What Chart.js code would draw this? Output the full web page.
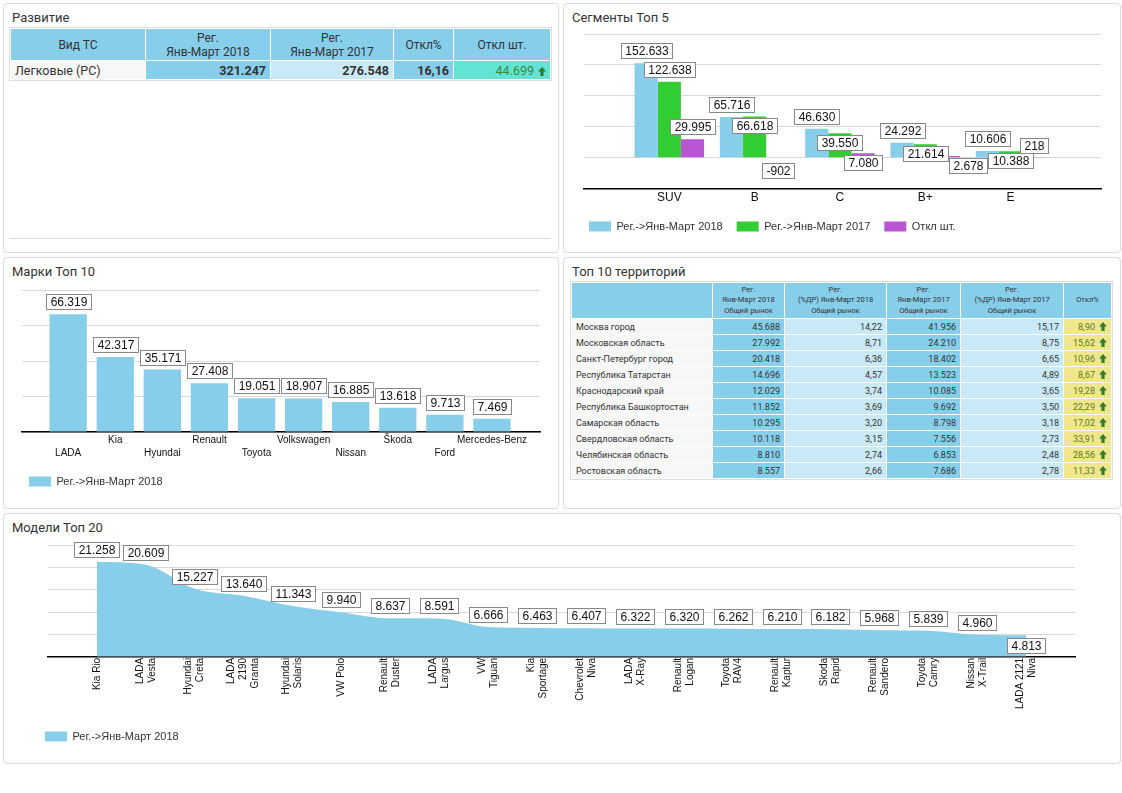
<!DOCTYPE html>
<html>
<head>
<meta charset="utf-8">
<script src="https://cdn.jsdelivr.net/npm/chart.js@4/dist/chart.umd.min.js"></script>
<style>
  body { margin: 0; width: 1122px; height: 793px; background: #fff; position: relative; font-family: Roboto, "Open Sans", sans-serif; color: #333; overflow: hidden; }
  .panel { position: absolute; border: 1px solid #dcdcdc; border-radius: 4px; box-shadow: 0 0 2px rgba(0,0,0,0.06); background: #fff; }
  .title { position: absolute; left: 8px; top: 5px; font-size: 13px; line-height: 18px; color: #333; }
  .box { position: absolute; }
  table { border-collapse: collapse; table-layout: fixed; position: absolute; }
  td, th { border: 1px solid #fff; padding: 0 4px; overflow: hidden; white-space: nowrap; }
  #devTable { left: 10px; top: 28px; width: 540px; outline: 1px solid #ddd; }
  #devTable th { background: #87ceeb; font-weight: normal; font-size: 12px; line-height: 14px; height: 31px; text-align: center; }
  #devTable td { font-size: 12.5px; height: 18px; text-align: right; font-weight: bold; }
  #terrTable { left: 571px; top: 282px; width: 540px; outline: 1px solid #ddd; }
  #terrTable th { background: #87ceeb; font-weight: normal; font-size: 7.5px; line-height: 10.5px; height: 35px; text-align: center; }
  #terrTable td { font-size: 9px; height: 15px; text-align: right; }
  .name { text-align: left !important; font-weight: normal !important; background: #f7f7f7; }
  .c1 { background: #87ceeb; }
  .c2 { background: #c9e9f6; }
  .cy { background: #f0e68c; color: #5b7a25; }
  .ct { background: #62e3d3; color: #3b8a3b; font-weight: normal !important; }
  .arr { display: inline-block; margin-left: 4px; vertical-align: -1px; }
  .line { position: absolute; left: 10px; top: 238px; width: 540px; height: 1px; background: #ddd; }
</style>
</head>
<body>
<div class="panel" style="left:3px;top:3px;width:554px;height:248px"><div class="title">Развитие</div></div>
<div class="panel" style="left:563px;top:3px;width:556px;height:248px"><div class="title">Сегменты Топ 5</div></div>
<div class="panel" style="left:3px;top:257px;width:554px;height:250px"><div class="title">Марки Топ 10</div></div>
<div class="panel" style="left:563px;top:257px;width:556px;height:250px"><div class="title">Топ 10 территорий</div></div>
<div class="panel" style="left:3px;top:513px;width:1116px;height:249px"><div class="title">Модели Топ 20</div></div>
<div class="line"></div>

<table id="devTable"></table>
<table id="terrTable"></table>

<div class="box" style="left:570px;top:24px;width:540px;height:218px"><canvas id="segChart"></canvas></div>
<div class="box" style="left:10px;top:280px;width:540px;height:217px"><canvas id="brandChart"></canvas></div>
<div class="box" style="left:10px;top:535px;width:1100px;height:217px"><canvas id="modelChart"></canvas></div>

<script>
// ---- data ----
const devHead = ['Вид ТС', 'Рег.\nЯнв-Март 2018', 'Рег.\nЯнв-Март 2017', 'Откл%', 'Откл шт.'];
const devWidths = [135, 125, 123, 60, 97];
const devType = ['Легковые (РС)'];
const dev2018 = [321247];
const dev2017 = [276548];
const devPct = [16.16];
const devUnits = [44699];

const segments = ['SUV', 'B', 'C', 'B+', 'E'];
const seg2018 = [152633, 65716, 46630, 24292, 10606];
const seg2017 = [122638, 66618, 39550, 21614, 10388];
const segDiff = [29995, -902, 7080, 2678, 218];

const brands = ['LADA', 'Kia', 'Hyundai', 'Renault', 'Toyota', 'Volkswagen', 'Nissan', 'Škoda', 'Ford', 'Mercedes-Benz'];
const brand2018 = [66319, 42317, 35171, 27408, 19051, 18907, 16885, 13618, 9713, 7469];

const terrHead = ['', 'Рег.\nЯнв-Март 2018\nОбщий рынок', 'Рег.\n(%ДР) Янв-Март 2018\nОбщий рынок',
  'Рег.\nЯнв-Март 2017\nОбщий рынок', 'Рег.\n(%ДР) Янв-Март 2017\nОбщий рынок', 'Откл%'];
const terrWidths = [141, 72, 102, 74, 103, 48];
const regions = ['Москва город', 'Московская область', 'Санкт-Петербург город', 'Республика Татарстан',
  'Краснодарский край', 'Республика Башкортостан', 'Самарская область', 'Свердловская область',
  'Челябинская область', 'Ростовская область'];
const reg2018 = [45688, 27992, 20418, 14696, 12029, 11852, 10295, 10118, 8810, 8557];
const share2018 = [14.22, 8.71, 6.36, 4.57, 3.74, 3.69, 3.20, 3.15, 2.74, 2.66];
const reg2017 = [41956, 24210, 18402, 13523, 10085, 9692, 8798, 7556, 6853, 7686];
const share2017 = [15.17, 8.75, 6.65, 4.89, 3.65, 3.50, 3.18, 2.73, 2.48, 2.78];
const regPct = [8.90, 15.62, 10.96, 8.67, 19.28, 22.29, 17.02, 33.91, 28.56, 11.33];

const models = ['Kia Rio', 'LADA\nVesta', 'Hyundai\nCreta', 'LADA\n2190\nGranta', 'Hyundai\nSolaris', 'VW Polo',
  'Renault\nDuster', 'LADA\nLargus', 'VW\nTiguan', 'Kia\nSportage', 'Chevrolet\nNiva', 'LADA\nX-Ray',
  'Renault\nLogan', 'Toyota\nRAV4', 'Renault\nKaptur', 'Skoda\nRapid', 'Renault\nSandero', 'Toyota\nCamry',
  'Nissan\nX-Trail', 'LADA 2121\nNiva'];
const model2018 = [21258, 20609, 15227, 13640, 11343, 9940, 8637, 8591, 6666, 6463,
  6407, 6322, 6320, 6262, 6210, 6182, 5968, 5839, 4960, 4813];

const legend2018 = 'Рег.->Янв-Март 2018';
const legend2017 = 'Рег.->Янв-Март 2017';
const legendDiff = 'Откл шт.';

// ---- helpers ----
function fmtInt(v) {
  const s = String(Math.abs(Math.round(v))).replace(/\B(?=(\d{3})+(?!\d))/g, '.');
  return (v < 0 ? '-' : '') + s;
}
function fmtDec(v) { return v.toFixed(2).replace('.', ','); }
const arrow = '<svg class="arr" width="8" height="9" viewBox="0 0 8 9"><path d="M4 0L8 4.6H5.6V9H2.4V4.6H0Z" fill="#2f7d32"/></svg>';

function headRows(cells, widths) {
  return '<colgroup>' + widths.map(w => '<col style="width:' + w + 'px">').join('') + '</colgroup>' +
    '<tr>' + cells.map(c => '<th>' + c.split('\n').join('<br>') + '</th>').join('') + '</tr>';
}

// development table
let html = headRows(devHead, devWidths);
devType.forEach((t, i) => {
  html += '<tr><td class="name">' + t + '</td><td class="c1">' + fmtInt(dev2018[i]) + '</td><td class="c2">' +
    fmtInt(dev2017[i]) + '</td><td class="c1">' + fmtDec(devPct[i]) + '</td><td class="ct">' + fmtInt(devUnits[i]) + arrow + '</td></tr>';
});
document.getElementById('devTable').innerHTML = html;

// territories table
html = headRows(terrHead, terrWidths);
regions.forEach((r, i) => {
  html += '<tr><td class="name">' + r + '</td><td class="c1">' + fmtInt(reg2018[i]) + '</td><td class="c2">' +
    fmtDec(share2018[i]) + '</td><td class="c1">' + fmtInt(reg2017[i]) + '</td><td class="c2">' +
    fmtDec(share2017[i]) + '</td><td class="cy">' + fmtDec(regPct[i]) + arrow + '</td></tr>';
});
document.getElementById('terrTable').innerHTML = html;

// ---- charts ----
Chart.defaults.font.family = '"Liberation Sans", Arial, sans-serif';
Chart.defaults.font.size = 12;
Chart.defaults.color = '#222';
Chart.defaults.animation = false;

const SKY = '#87ceeb', GREEN = '#32cd32', PURPLE = '#ba55d3', GRID = '#d9d9d9';

// boxed value labels, moved down or right when they would hit a label already drawn
function hits(a, b) {
  return a.x < b.x + b.w && b.x < a.x + a.w && a.y < b.y + b.h && b.y < a.y + a.h;
}
const boxLabels = {
  id: 'boxLabels',
  afterDatasetsDraw(chart, args, opts) {
    const ctx = chart.ctx;
    const below = opts.below || [];
    ctx.save();
    ctx.font = '12px "Liberation Sans", Arial, sans-serif';
    ctx.textAlign = 'center';
    ctx.textBaseline = 'middle';
    const placed = [];
    const sets = chart.data.datasets;
    const count = Math.max(...sets.map(d => d.data.length));
    for (let j = 0; j < count; j++) {
      sets.forEach((ds, i) => {
        const el = chart.getDatasetMeta(i).data[j];
        const raw = ds.data[j];
        if (!el || raw == null) return;
        const v = typeof raw === 'object' ? raw.y : raw;
        const text = fmtInt(v);
        const w = Math.round(ctx.measureText(text).width) + 8, h = 15;
        const cands = v < 0 ? [el.y + 5] : below.includes(j) ? [el.y + 3] : [el.y - 5 - h, el.y + 2];
        let box = null;
        for (const cy of cands) {
          const b = { x: el.x - w / 2, y: cy, w: w, h: h };
          if (!placed.some(p => hits(p, b))) { box = b; break; }
        }
        if (!box) {
          box = { x: el.x - w / 2, y: cands[cands.length - 1], w: w, h: h };
          let hit;
          while ((hit = placed.find(p => hits(p, box)))) box.x = hit.x + hit.w + 1;
        }
        placed.push(box);
        const bx = Math.round(box.x) + 0.5, by = Math.round(box.y) + 0.5;
        ctx.fillStyle = '#fff';
        ctx.fillRect(bx, by, box.w, box.h);
        ctx.strokeStyle = '#888';
        ctx.lineWidth = 1;
        ctx.strokeRect(bx, by, box.w, box.h);
        ctx.fillStyle = '#111';
        ctx.fillText(text, bx + box.w / 2, by + 0.5 + box.h / 2);
      });
    }
    ctx.restore();
  }
};

function legendOpts() {
  return {
    position: 'bottom',
    align: 'start',
    labels: { boxWidth: 22, boxHeight: 10, padding: 14, color: '#333', font: { size: 11 } }
  };
}
function yOpts(max, step, width) {
  return {
    min: 0, max: max,
    ticks: { display: false, stepSize: step },
    grid: { color: GRID, drawTicks: false },
    border: { display: false },
    afterFit: s => { s.width = width; }
  };
}
function pts(values) { return values.map((v, i) => ({ x: i, y: v })); }

// segments
new Chart('segChart', {
  type: 'bar',
  data: {
    datasets: [
      { label: legend2018, data: pts(seg2018), backgroundColor: SKY },
      { label: legend2017, data: pts(seg2017), backgroundColor: GREEN },
      { label: legendDiff, data: pts(segDiff), backgroundColor: PURPLE }
    ]
  },
  plugins: [boxLabels],
  options: {
    responsive: true, maintainAspectRatio: false,
    layout: { padding: { left: 5, right: 9, top: 10, bottom: 0 } },
    datasets: { bar: { categoryPercentage: 0.815, barPercentage: 1 } },
    scales: {
      x: {
        type: 'linear', min: -1.0, max: 5.06, offset: false,
        afterBuildTicks: s => { s.ticks = segments.map((_, i) => ({ value: i })); },
        ticks: { autoSkip: false, maxRotation: 0, padding: 2, color: '#111', font: { size: 12 }, callback: (v, i) => segments[i] },
        grid: { display: false, drawTicks: false },
        border: { color: '#000', width: 1.5 }
      },
      y: Object.assign(yOpts(200000, 50000, 9), { min: -50000 })
    },
    plugins: { legend: legendOpts(), tooltip: { enabled: false }, boxLabels: {} }
  }
});

// brands
new Chart('brandChart', {
  type: 'bar',
  data: { datasets: [{ label: legend2018, data: pts(brand2018), backgroundColor: SKY }] },
  plugins: [boxLabels],
  options: {
    responsive: true, maintainAspectRatio: false,
    layout: { padding: { left: 5, right: 10, top: 10, bottom: 0 } },
    datasets: { bar: { categoryPercentage: 0.88, barPercentage: 0.9 } },
    scales: {
      x: {
        type: 'linear', min: -0.98, max: 10.02, offset: false,
        afterBuildTicks: s => { s.ticks = brands.map((_, i) => ({ value: i })); },
        ticks: {
          autoSkip: false, maxRotation: 0, padding: 2, color: '#111', font: { size: 10, lineHeight: 1.3 },
          callback: (v, i) => i % 2 === 0 ? ['', brands[i]] : [brands[i]]
        },
        grid: { display: false, drawTicks: false },
        border: { color: '#000', width: 1.5 }
      },
      y: yOpts(80000, 20000, 7)
    },
    plugins: { legend: legendOpts(), tooltip: { enabled: false }, boxLabels: {} }
  }
});

// models: rotated multi-line labels are centred on their tick by spreading the
// lines over half-height slots (blank slots in between) and shifting the block back
function centredLines(name) {
  const lines = name.split('\n');
  const out = [];
  for (let k = 0; k < 3 - lines.length; k++) out.push('');
  lines.forEach((l, k) => { if (k > 0) out.push(''); out.push(l); });
  return out;
}
const modelLabels = [''].concat(models.map(centredLines), ['']);
const modelData = [null].concat(model2018, [null]);
new Chart('modelChart', {
  type: 'line',
  data: {
    labels: modelLabels,
    datasets: [{
      label: legend2018, data: modelData, fill: 'origin', backgroundColor: SKY, borderColor: SKY,
      borderWidth: 0, pointRadius: 0, cubicInterpolationMode: 'monotone'
    }]
  },
  plugins: [boxLabels],
  options: {
    responsive: true, maintainAspectRatio: false,
    layout: { padding: { left: 21, right: 35, top: 10, bottom: 0 } },
    scales: {
      x: {
        offset: false,
        afterFit: s => { s.height += 7; },
        ticks: {
          autoSkip: false, minRotation: 90, maxRotation: 90, padding: 1, labelOffset: -12,
          color: '#111', font: { size: 10, lineHeight: 0.6 }
        },
        grid: { display: false, drawTicks: false },
        border: { color: '#000', width: 1.5 }
      },
      y: yOpts(25000, 5000, 17)
    },
    plugins: {
      legend: legendOpts(), tooltip: { enabled: false },
      boxLabels: { below: [models.length] }
    }
  }
});
</script>
</body>
</html>
